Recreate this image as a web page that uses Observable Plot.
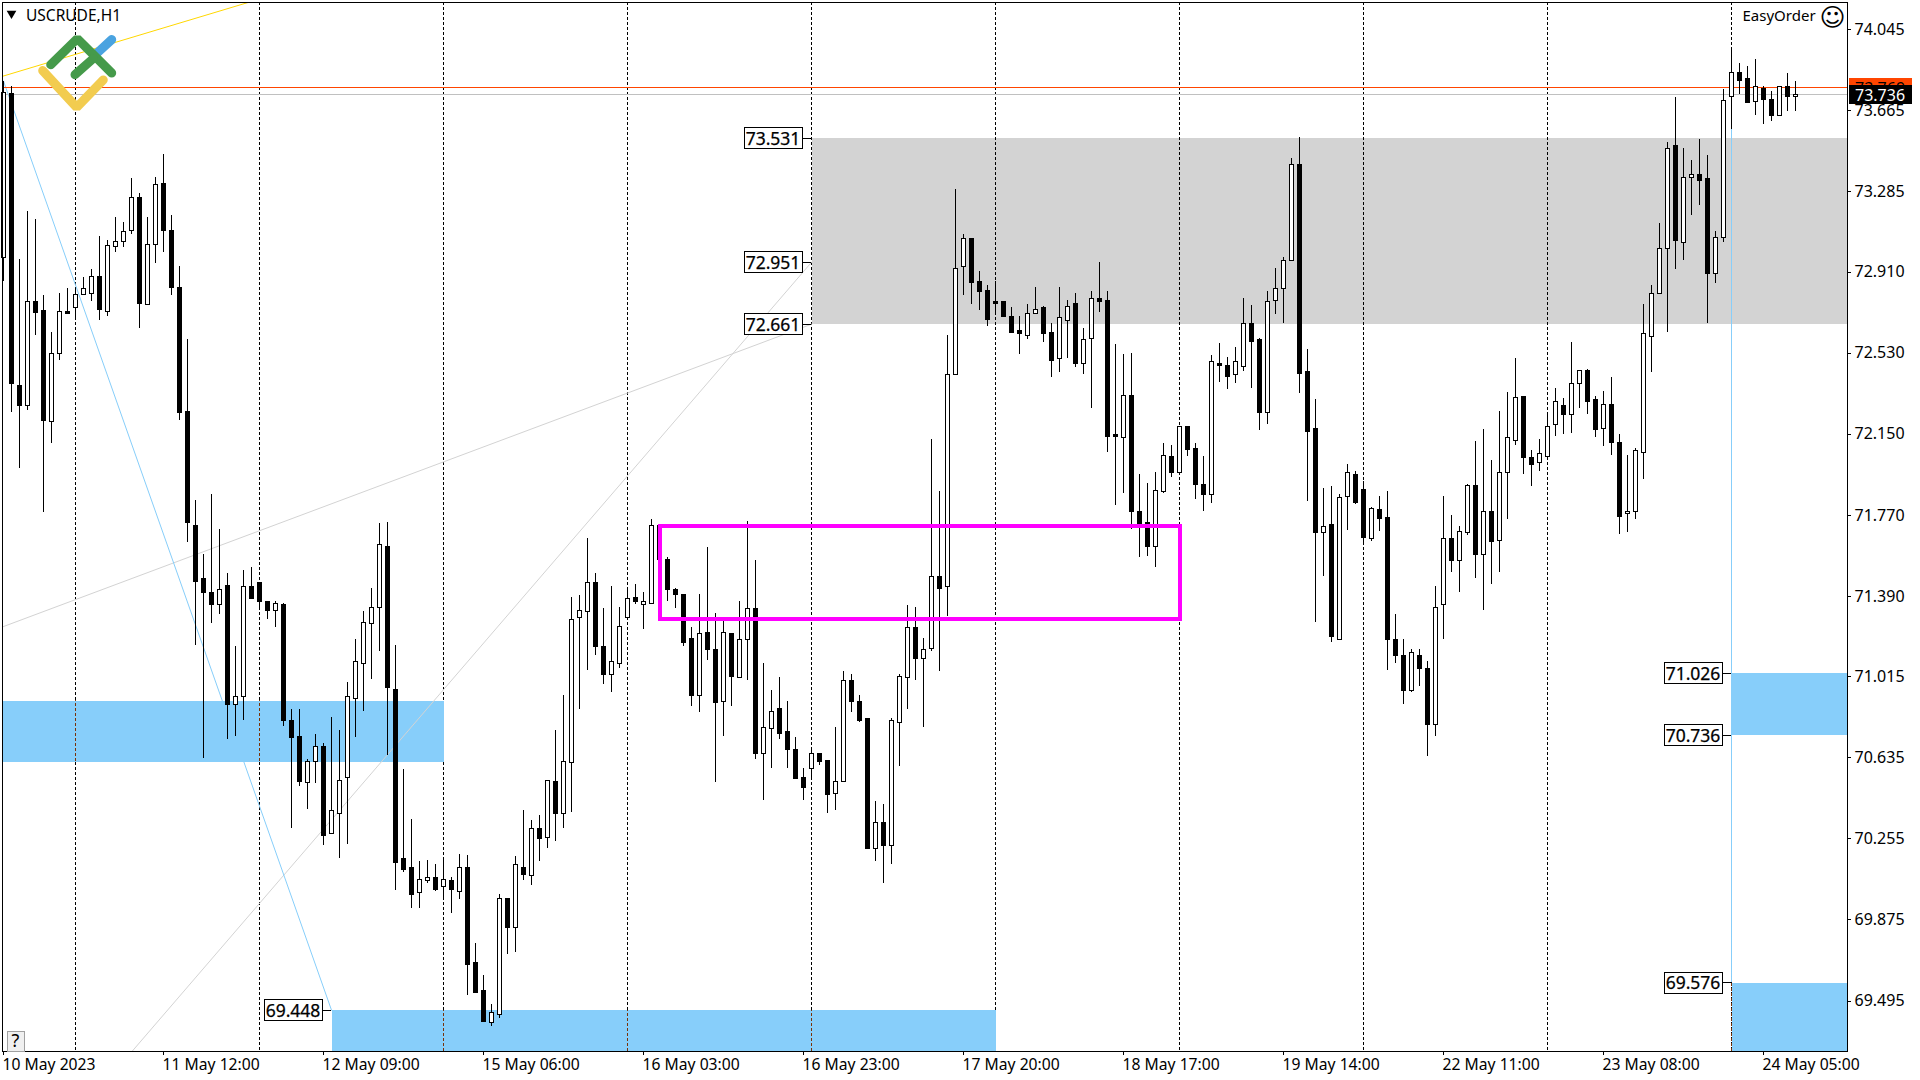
<!DOCTYPE html>
<html>
<head>
<meta charset="utf-8">
<script src="https://cdn.jsdelivr.net/npm/d3@7"></script>
<script src="https://cdn.jsdelivr.net/npm/@observablehq/plot@0.6"></script>
<style>html,body{margin:0;padding:0;background:#fff}svg{display:block}</style>
</head>
<body>
<div id="chart"></div>
<script>
const high = [
73.800,73.776,72.962,73.187,73.149,72.793,72.624,72.807,72.826,72.826,72.880,72.918,73.070,73.051,73.159,73.135,73.341,73.275,73.163,73.350,
73.458,73.168,72.933,72.591,71.837,71.584,71.861,71.701,71.491,71.149,71.505,71.519,71.449,71.364,71.364,71.355,70.854,70.854,70.620,70.737,
70.695,70.817,70.760,70.985,71.186,71.313,71.425,71.729,71.734,71.158,70.573,70.343,70.146,70.151,70.128,70.151,70.067,70.179,70.174,69.758,
69.608,69.473,69.992,69.973,70.170,70.381,70.338,70.362,70.526,70.760,70.920,71.379,71.388,71.655,71.491,71.327,71.434,71.336,71.416,71.444,
71.402,71.744,71.716,71.566,71.425,71.397,71.242,71.397,71.617,71.308,71.275,71.214,71.364,71.739,71.556,71.074,70.943,71.004,70.896,70.727,
70.582,70.667,70.648,70.615,70.770,71.032,71.018,70.924,70.816,70.423,70.409,70.816,71.018,71.341,71.336,71.191,72.123,71.875,72.610,73.290,
73.083,73.060,72.910,72.840,72.859,72.769,72.737,72.699,72.755,72.835,72.746,72.662,72.831,72.774,72.807,72.643,72.816,72.952,72.812,72.568,
72.521,72.526,71.955,71.917,71.968,72.104,72.095,72.184,72.184,72.100,72.043,72.512,72.572,72.507,72.554,72.779,72.750,72.596,72.816,72.924,
72.975,73.435,73.537,72.544,72.306,71.893,71.903,71.865,72.002,71.973,71.922,71.804,71.856,71.875,71.299,71.186,71.139,71.139,71.079,71.434,
71.856,71.767,71.715,71.912,72.113,72.170,72.024,72.250,72.343,72.502,72.324,72.067,72.123,72.231,72.358,72.311,72.577,72.446,72.451,72.324,
72.348,72.409,72.142,72.048,72.081,72.751,72.840,73.131,73.510,73.725,73.486,73.426,73.528,73.449,73.093,73.762,73.945,73.884,73.870,73.903,73.772,73.753,73.776,73.837,73.800];
const low = [
72.859,72.245,71.987,72.259,72.610,71.781,72.100,72.493,72.704,72.694,72.798,72.765,72.680,72.699,72.995,73.018,73.079,72.643,72.751,72.943,
72.995,72.793,72.208,71.640,71.158,70.629,71.261,71.299,70.718,70.732,70.803,71.374,71.318,71.280,71.238,70.775,70.301,70.494,70.390,70.508,
70.217,70.277,70.156,70.222,70.723,70.849,70.999,71.130,70.643,70.010,70.091,69.926,69.926,70.039,70.006,69.969,69.903,69.964,69.515,69.524,
69.388,69.370,69.407,69.711,69.716,70.057,70.034,70.146,70.207,70.240,70.301,70.376,70.858,71.037,71.111,70.971,70.934,71.050,71.285,71.346,
71.233,71.346,71.561,71.360,71.327,71.153,70.868,70.844,71.088,70.512,70.732,70.868,71.004,70.994,70.624,70.432,70.582,70.718,70.582,70.531,
70.432,70.535,70.592,70.367,70.381,70.512,70.844,70.797,70.203,70.146,70.039,70.132,70.587,70.858,70.994,70.774,71.130,71.036,71.290,72.423,
72.793,72.751,72.727,72.652,72.704,72.694,72.624,72.521,72.587,72.713,72.577,72.413,72.437,72.498,72.460,72.423,72.268,72.718,72.062,71.814,
71.870,71.701,71.570,71.575,71.519,71.870,71.945,71.964,72.039,71.842,71.785,71.823,72.390,72.357,72.385,72.441,72.362,72.165,72.193,72.704,
72.662,72.957,72.338,71.832,71.266,71.481,71.168,71.186,71.696,71.818,71.626,71.645,71.692,71.041,71.074,70.878,70.934,70.966,70.634,70.732,
71.182,71.500,71.402,71.669,71.472,71.322,71.444,71.500,71.748,72.095,71.959,71.903,71.973,72.043,72.137,72.142,72.151,72.268,72.236,72.128,
72.090,72.048,71.678,71.687,71.748,71.935,72.437,72.807,72.624,72.918,72.957,73.168,73.215,72.666,72.853,73.042,73.575,73.739,73.697,73.640,73.594,73.612,73.640,73.659,73.659];
const open = [
72.971,73.743,72.376,72.278,72.765,72.727,72.203,72.526,72.722,72.737,72.802,72.807,72.886,72.722,73.023,73.046,73.098,73.252,72.755,73.032,
73.322,73.102,72.831,72.254,71.720,71.472,71.402,71.350,71.439,70.878,70.915,71.430,71.449,71.364,71.318,71.350,70.803,70.728,70.512,70.611,
70.681,70.277,70.367,70.540,70.910,71.074,71.261,71.336,71.622,70.952,70.156,70.114,69.997,70.057,70.067,70.025,70.057,70.006,70.118,69.669,
69.538,69.388,69.426,69.973,69.833,70.118,70.081,70.301,70.259,70.521,70.371,70.606,71.285,71.313,71.453,71.149,71.018,71.074,71.285,71.383,
71.350,71.355,71.716,71.561,71.420,71.397,71.191,70.924,71.219,71.135,70.892,71.214,71.008,71.186,71.331,70.652,70.765,70.859,70.755,70.671,
70.540,70.578,70.648,70.615,70.465,70.521,70.990,70.892,70.816,70.203,70.325,70.217,70.793,71.008,71.238,71.093,71.144,71.481,71.430,72.423,
72.929,73.060,72.863,72.821,72.769,72.769,72.699,72.633,72.610,72.713,72.737,72.624,72.498,72.676,72.760,72.479,72.596,72.783,72.774,72.146,
72.132,72.329,71.785,71.734,71.622,71.875,72.043,71.968,72.184,72.081,71.912,71.861,72.479,72.469,72.423,72.465,72.662,72.587,72.249,72.774,
72.826,72.957,73.411,72.441,72.174,71.683,71.725,71.186,71.852,71.959,71.889,71.659,71.795,71.757,71.186,71.111,70.943,71.111,71.050,70.784,
71.350,71.659,71.556,71.687,71.907,71.580,71.785,71.650,71.968,72.118,72.324,72.038,72.011,72.043,72.189,72.278,72.236,72.385,72.446,72.306,
72.174,72.283,72.105,71.776,71.785,72.062,72.605,72.807,73.014,73.496,73.042,73.346,73.360,73.341,72.900,73.065,73.729,73.842,73.814,73.706,73.767,73.715,73.640,73.776,73.729];
const close = [
73.748,72.381,72.278,72.769,72.718,72.212,72.526,72.722,72.713,72.802,72.826,72.886,72.732,73.028,73.046,73.093,73.252,72.760,73.032,73.313,
73.098,72.831,72.245,71.734,71.458,71.402,71.350,71.420,70.878,70.915,71.430,71.374,71.364,71.322,71.355,70.803,70.723,70.517,70.611,70.681,
70.268,70.385,70.526,70.915,71.083,71.266,71.336,71.631,70.957,70.141,70.109,69.992,70.062,70.071,70.011,70.062,70.011,70.118,69.664,69.533,
69.393,69.435,69.973,69.837,70.132,70.085,70.301,70.250,70.526,70.371,70.611,71.280,71.322,71.453,71.149,71.018,71.079,71.247,71.378,71.360,
71.364,71.716,71.561,71.416,71.397,71.172,70.924,71.210,71.139,70.887,71.219,71.013,71.186,71.331,70.652,70.770,70.849,70.746,70.671,70.531,
70.493,70.648,70.611,70.460,70.521,70.990,70.892,70.807,70.203,70.329,70.217,70.807,71.013,71.238,71.093,71.135,71.481,71.425,72.423,72.924,
73.060,72.858,72.816,72.685,72.760,72.699,72.624,72.615,72.709,72.732,72.619,72.493,72.694,72.746,72.479,72.591,72.783,72.769,72.137,72.137,
72.329,71.785,71.716,71.622,71.880,72.048,71.968,72.184,72.076,71.912,71.861,72.488,72.469,72.418,72.484,72.662,72.582,72.245,72.765,72.826,
72.957,73.411,72.432,72.160,71.683,71.715,71.196,71.851,71.964,71.828,71.664,71.800,71.753,71.182,71.107,70.943,71.121,71.046,70.784,71.336,
71.655,71.552,71.692,71.907,71.584,71.785,71.641,71.968,72.132,72.319,72.038,72.006,72.053,72.184,72.297,72.236,72.381,72.446,72.301,72.170,
72.283,72.105,71.762,71.785,72.067,72.615,72.807,73.014,73.482,73.051,73.346,73.364,73.336,72.900,73.065,73.711,73.842,73.804,73.697,73.772,73.715,73.640,73.772,73.729,73.739];

const xTickBars = [0,20,40,60,80,100,120,140,160,180,200,220];
const xTickLabels = ["10 May 2023","11 May 12:00","12 May 09:00","15 May 06:00","16 May 03:00","16 May 23:00","17 May 20:00","18 May 17:00","19 May 14:00","22 May 11:00","23 May 08:00","24 May 05:00"];
const yTicks = [74.045,73.665,73.285,72.910,72.530,72.150,71.770,71.390,71.015,70.635,70.255,69.875,69.495];
const dayBars = [9,32,55,78,101,124,147,170,193,216];

const bidPrice = 73.736, askPrice = 73.769;
const bands = [
  {x1:101, x2:230.5, top:73.531, bottom:72.661, fill:"#D3D3D3"},
  {x1:-0.125, x2:55, top:70.897, bottom:70.611, fill:"#87CEFA"},
  {x1:41, x2:124, top:69.448, bottom:69.254, fill:"#87CEFA"},
  {x1:216, x2:230.5, top:71.026, bottom:70.736, fill:"#87CEFA"},
  {x1:216, x2:230.5, top:69.576, bottom:69.254, fill:"#87CEFA"}
];
const levelTags = [
  {bar:101, price:73.531},{bar:101, price:72.951},{bar:101, price:72.661},
  {bar:41, price:69.448},
  {bar:216, price:71.026},{bar:216, price:70.736},{bar:216, price:69.576}
];
const brownDashes = [
  {bar:9,  top:70.897, bottom:70.611},{bar:32, top:70.897, bottom:70.611},
  {bar:55, top:69.448, bottom:69.254},{bar:78, top:69.448, bottom:69.254},
  {bar:101,top:69.448, bottom:69.254},{bar:216,top:69.576, bottom:69.254}
];
const trendYellow = [{bar:-0.125, price:73.822},{bar:30.6, price:74.168}];
const trendBlue   = [{bar:0, price:73.800},{bar:41, price:69.448}];
const trendGreyA  = [{bar:-0.125, price:71.243},{bar:101, price:72.661}];
const trendGreyB  = [{bar:16.05, price:69.254},{bar:101, price:72.951}];
const zoneBox = {x1:82, x2:147, top:71.716, bottom:71.280};

const candles = high.map((h,i)=>({i, open:open[i], high:h, low:low[i], close:close[i]}));

// pixel helpers for chrome-like decorations
const pxX = p => (p-3.5)/8;
const pxY = p => 74.1794 - p/213.5;
const logo = [
  {c:"#F2CC4F", pts:[[42.7,70.6],[76.7,107.4],[103.3,79.9]]},
  {c:"#4AA3E0", pts:[[95,55],[111.7,39.6]]},
  {c:"#459A4A", pts:[[50.7,64.7],[77.3,38.6],[111.7,73]]},
  {c:"#459A4A", pts:[[75,74.7],[93.3,58.5]]}
];
const crisp = {shapeRendering:"crispEdges"};
const rectCrisp = {shapeRendering:"crispEdges", dx:0.5, dy:0.5}; // rects get no half-pixel offset from Plot
const FONT = "Noto Sans";

const chart = Plot.plot({
  width:1920, height:1080,
  marginLeft:2, marginRight:73, marginTop:2, marginBottom:29,
  style:{background:"#fff", fontFamily:FONT, fontSize:"16px", color:"#000", overflow:"visible"},
  x:{type:"linear", domain:[-0.125,230.5], range:[2,1847]},
  y:{type:"linear", domain:[pxY(1051.5),pxY(2.5)], range:[1051,2]},
  marks:[
    Plot.rect(bands.slice(0,1),{x1:"x1",x2:"x2",y1:"bottom",y2:"top",fill:"fill",...rectCrisp}),
    Plot.ruleX(dayBars,{stroke:"#000",strokeWidth:1,strokeDasharray:"3,2",...crisp}),
    Plot.rect(bands.slice(1),{x1:"x1",x2:"x2",y1:"bottom",y2:"top",fill:"fill",...rectCrisp}),
    Plot.ruleX(brownDashes,{x:"bar",y1:"bottom",y2:"top",stroke:"#7A3105",strokeDasharray:"3,2",...crisp}),
    Plot.ruleX([216],{y1:69.576,y2:bidPrice,stroke:"#87CEFA",...crisp}),
    Plot.line(trendGreyA,{x:"bar",y:"price",stroke:"#D3D3D3",strokeWidth:1,clip:true}),
    Plot.line(trendGreyB,{x:"bar",y:"price",stroke:"#D3D3D3",strokeWidth:1,clip:true}),
    Plot.line(trendBlue,{x:"bar",y:"price",stroke:"#87CEFA",strokeWidth:1,clip:true}),
    Plot.line(trendYellow,{x:"bar",y:"price",stroke:"#FFD700",strokeWidth:1,clip:true}),
    Plot.ruleY([askPrice],{stroke:"#FF4500",...crisp}),
    Plot.ruleY([bidPrice],{stroke:"#C0C0C0",...crisp}),
    Plot.ruleX(candles,{x:"i",y1:"low",y2:"high",stroke:"#000",strokeWidth:1,...crisp}),
    Plot.rect(candles,{x1:d=>d.i-0.25,x2:d=>d.i+0.25,y1:"open",y2:"close",
      fill:d=>d.close>=d.open?"#fff":"#000",stroke:"#000",strokeWidth:1,...rectCrisp}),
    Plot.rect([zoneBox],{x1:"x1",x2:"x2",y1:"bottom",y2:"top",fill:"none",stroke:"#FF00FF",strokeWidth:4,...rectCrisp}),
    // level tags
    Plot.ruleY(levelTags,{y:"price",x1:d=>d.bar-1.2,x2:"bar",stroke:"#000",...crisp}),
    Plot.rect(levelTags,{x1:d=>d.bar-1.1875-7.25,x2:d=>d.bar-1.1875,
      y1:d=>d.price-10.5/213.5,y2:d=>d.price+10.5/213.5,fill:"#fff",stroke:"#000",...rectCrisp}),
    Plot.text(levelTags,{x:d=>d.bar-1.1875-3.625,y:"price",text:d=>d.price.toFixed(3),
      fontSize:17.5,fontFamily:FONT,fill:"#000",stroke:"#000",strokeWidth:0.25,dy:1,textAnchor:"middle",lineAnchor:"middle"}),
    Plot.frame({stroke:"#000",strokeWidth:1,...crisp}),
    Plot.ruleX(xTickBars,{y1:pxY(1051.5),y2:pxY(1055),stroke:"#000",...crisp}),
    Plot.axisX({anchor:"bottom",ticks:xTickBars,tickFormat:d=>xTickLabels[xTickBars.indexOf(d)],tickSize:0,tickPadding:7,dx:-1,
      textAnchor:"start",fontSize:15.7,fontFamily:FONT,label:null}),
    Plot.axisY({anchor:"right",ticks:yTicks,tickFormat:d3.format(".3f"),tickSize:3,tickPadding:4,
      textAnchor:"start",fontSize:16,fontFamily:FONT,label:null,dy:1,...crisp}),
    // price tags on the axis
    Plot.rect([askPrice],{x1:pxX(1849),x2:pxX(1912),y1:d=>d-9.5/213.5,y2:d=>d+9.5/213.5,fill:"#FF4500",...rectCrisp}),
    Plot.text([askPrice],{x:pxX(1855),y:d=>d,text:d=>d.toFixed(3),dy:1,fontSize:16,fontFamily:FONT,fill:"#000",textAnchor:"start"}),
    Plot.rect([bidPrice],{x1:pxX(1849),x2:pxX(1912),y1:d=>d-9.5/213.5,y2:d=>d+9.5/213.5,fill:"#000",...rectCrisp}),
    Plot.text([bidPrice],{x:pxX(1855),y:d=>d,text:d=>d.toFixed(3),dy:1,fontSize:16,fontFamily:FONT,fill:"#fff",textAnchor:"start"}),
    // corner text
    Plot.dot([0],{frameAnchor:"top-left",dx:9,dy:11,symbol:"triangle",rotate:180,r:3.6,fill:"#000",stroke:null}),
    Plot.text(["USCRUDE,H1"],{frameAnchor:"top-left",dx:23.5,dy:13.5,textAnchor:"start",lineAnchor:"middle",fontSize:15.5,fontFamily:FONT,fill:"#000"}),
    Plot.text(["EasyOrder"],{frameAnchor:"top-right",dx:-105,dy:13.5,textAnchor:"start",lineAnchor:"middle",fontSize:15,fontFamily:FONT,fill:"#000"}),
    Plot.text(["\u263A"],{frameAnchor:"top-right",dx:-15,dy:15,textAnchor:"middle",lineAnchor:"middle",fontSize:25,fontFamily:"DejaVu Sans",fill:"#000"}),
    // help button
    Plot.rect([0],{x1:pxX(7),x2:pxX(24.5),y1:pxY(1051),y2:pxY(1031),fill:"#F0F0F0",stroke:"#A0A0A0",...rectCrisp}),
    Plot.text(["?"],{x:pxX(15.5),y:pxY(1041),fontSize:18,fontFamily:FONT,fill:"#000"}),
    // logo
    ...logo.map(s=>Plot.line(s.pts,{x:d=>pxX(d[0]),y:d=>pxY(d[1]),stroke:s.c,strokeWidth:9,strokeLinecap:"round",strokeLinejoin:"miter"}))
  ]
});
document.getElementById("chart").appendChild(chart);
</script>
</body>
</html>
